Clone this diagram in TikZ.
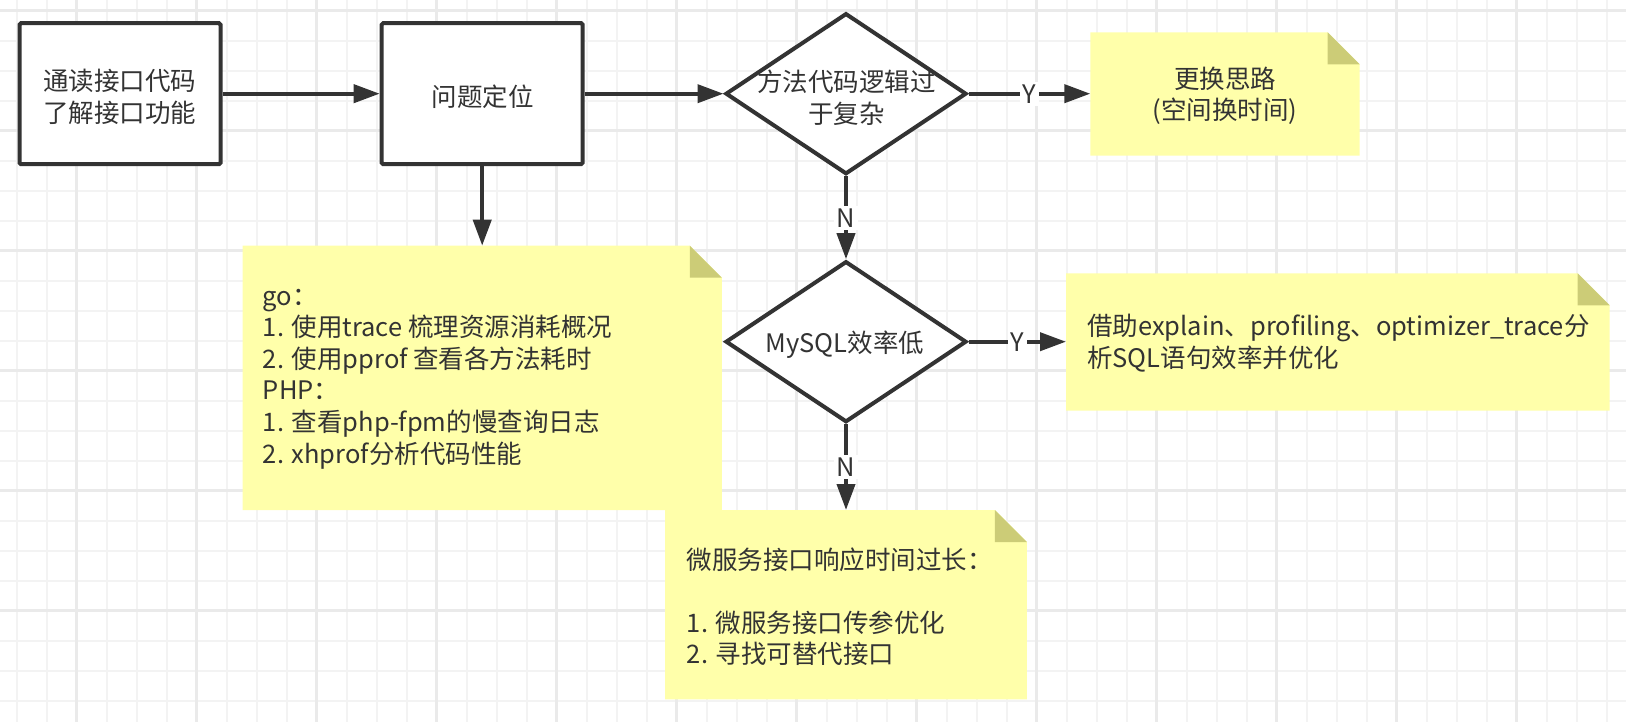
\documentclass[tikz,border=0pt]{standalone}
\usepackage{fontspec}
\setmainfont{Noto Sans CJK SC}
\usetikzlibrary{arrows.meta,shapes.geometric}
\definecolor{ink}{HTML}{333333}
\definecolor{notey}{HTML}{FFFFAA}
\definecolor{notefold}{HTML}{CCCC77}
\definecolor{gridminor}{HTML}{F3F3F3}
\definecolor{gridmajor}{HTML}{EAEAEA}
\pgfdeclarelayer{background}
\pgfsetlayers{background,main}
\newcommand\dognote[1]{%
  \begin{pgfonlayer}{background}
    \fill[notey] (#1.north west) -- ([xshift=-32pt]#1.north east) -- ([yshift=-32pt]#1.north east) -- (#1.south east) -- (#1.south west) -- cycle;
    \fill[notefold] ([xshift=-32pt]#1.north east) -- ([xshift=-32pt,yshift=-32pt]#1.north east) -- ([yshift=-32pt]#1.north east) -- cycle;
  \end{pgfonlayer}}
\begin{document}
\begin{tikzpicture}[x=1pt,y=-1pt,
  every node/.style={font=\fontsize{25.5}{31.6}\selectfont, text=ink},
  box/.style={draw=ink, line width=4pt, fill=white, rounded corners=1.5pt, minimum width=201pt, minimum height=141pt, inner sep=0pt},
  dia/.style={diamond, draw=ink, line width=4pt, fill=white, minimum width=241pt, minimum height=161pt, inner sep=0pt},
  note/.style={inner sep=0pt, outer sep=0pt},
  arr/.style={draw=ink, line width=4pt, -{Triangle[length=26pt,width=18pt]}},
  lbl/.style={fill=white, inner sep=2.5pt},
  txt/.style={align=center, inner sep=0pt},
  ntxt/.style={align=left, anchor=west, inner sep=0pt},
  minorline/.style={draw=gridminor, line width=2pt},
  majorline/.style={draw=gridmajor, line width=3pt}
]
\useasboundingbox (0,0) rectangle (1626,722);
\begin{pgfonlayer}{background}
  \fill[white] (0,0) rectangle (1626,722);
  \foreach \i in {0,...,54} \draw[minorline] ({16.7+30*\i},0) -- ({16.7+30*\i},722);
  \foreach \j in {0,...,24} \draw[minorline] (0,{10.7+30*\j}) -- (1626,{10.7+30*\j});
  \foreach \i in {0,...,12} \draw[majorline] ({76.7+120*\i},0) -- ({76.7+120*\i},722);
  \foreach \j in {0,...,5} \draw[majorline] (0,{10.7+120*\j}) -- (1626,{10.7+120*\j});
\end{pgfonlayer}

% shapes
\node[box] (b1) at (120,93.7) {};
\node[box] (b2) at (482.2,93.7) {};
\node[dia] (d1) at (846,93.7) {};
\node[dia] (d2) at (846,341.7) {};
\node[note, minimum width=269.3pt, minimum height=123.4pt] (n1) at (1225,94) {};
\node[note, minimum width=479.4pt, minimum height=264.3pt] (n2) at (482.2,377.85) {};
\node[note, minimum width=543.6pt, minimum height=137.4pt] (n3) at (1337.8,342) {};
\node[note, minimum width=361.7pt, minimum height=189.3pt] (n4) at (846,604.65) {};
\dognote{n1}
\dognote{n2}
\dognote{n3}
\dognote{n4}

% texts
\node[txt] (t1) at (119.5,96.7) {通读接口代码\\了解接口功能};
\node[txt] (t2) at (482.5,96.7) {问题定位};
\node[txt] (t3) at (846.5,97.5) {方法代码逻辑过\\于复杂};
\node[txt] (t4) at (1225,95.8) {更换思路\\(空间换时间)};
\node[txt] (t5) at (845,345) {MySQL效率低};
\node[ntxt] (t6) at (262.7,379) {go：\\1. 使用trace 梳理资源消耗概况\\2. 使用pprof 查看各方法耗时\\PHP：\\1. 查看php-fpm的慢查询日志\\2. xhprof分析代码性能};
\node[ntxt] (t7) at (1087,343) {借助explain、profiling、optimizer\_trace分\\析SQL语句效率并优化};
\node[ntxt] (t8) at (686.7,606.7) {微服务接口响应时间过长：\\[31.6pt]1. 微服务接口传参优化\\2. 寻找可替代接口};

% connectors
\draw[arr] (b1.east) -- (b2.west);
\draw[arr] (b2.east) -- (d1.west);
\draw[arr] (b2.south) -- (b2.south |- n2.north);
\draw[arr] (d1.east) -- node[lbl] (y1) {Y} (d1.east -| n1.west);
\draw[arr] (d1.south) -- node[lbl] (nn1) {N} (d2.north);
\draw[arr] (d2.east) -- node[lbl] (y2) {Y} (d2.east -| n3.west);
\draw[arr] (d2.south) -- node[lbl] (nn2) {N} (d2.south |- n4.north);
\end{tikzpicture}
\end{document}
